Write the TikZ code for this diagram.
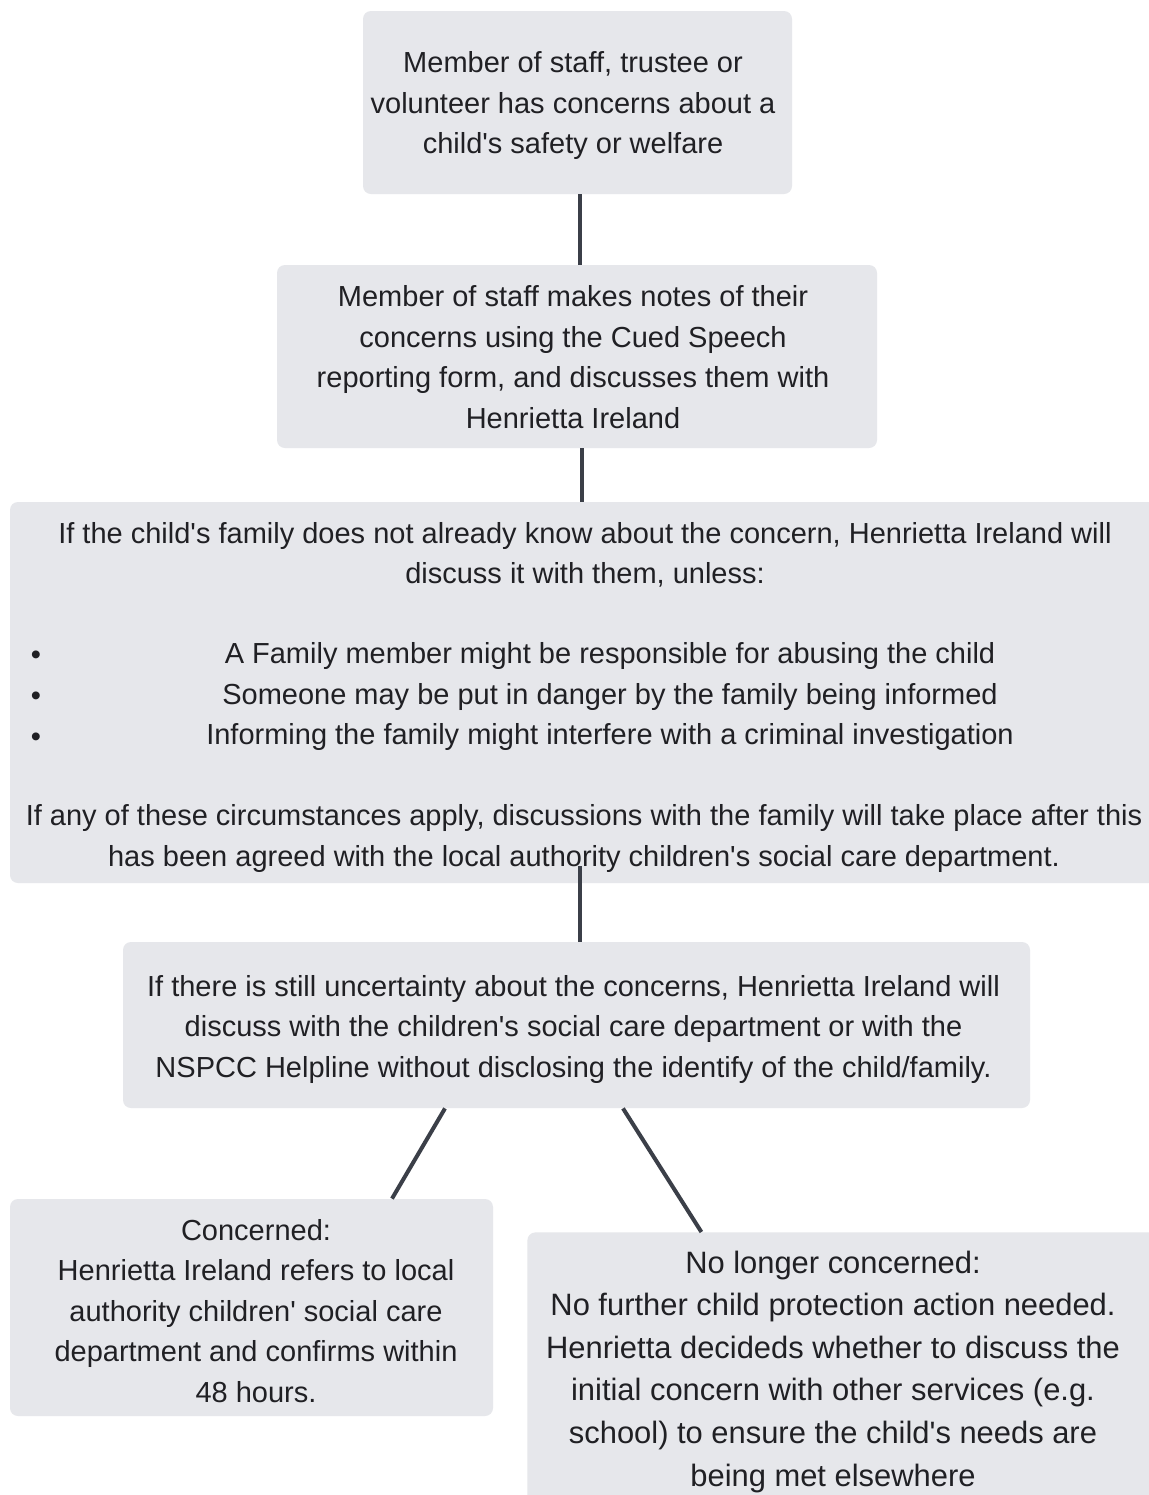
\documentclass[tikz,border=0pt]{standalone}
\usepackage{fontspec}
\setmainfont{Liberation Sans}[Ligatures=TeXOff]
\definecolor{boxgrey}{HTML}{E6E7EB}
\definecolor{linkgrey}{HTML}{3B3F48}
\definecolor{inkgrey}{HTML}{202024}
\tikzset{
  stepbox/.style={fill=boxgrey, rounded corners=4pt, inner sep=0pt},
  steptext/.style={inner sep=0pt, align=center, text=inkgrey,
    font=\fontsize{14.5}{20.25}\selectfont},
  link/.style={draw=linkgrey, line width=2pt},
}
\begin{document}
\begin{tikzpicture}[x=0.5pt, y=-0.5pt]
  \useasboundingbox (0,0) rectangle (1148,1495);
  \fill[white] (0,0) rectangle (1148,1495);

  % boxes, placed at pixel positions
  \node[stepbox, minimum width=214.5pt, minimum height=91.5pt] (b1) at (577.5,102.5) {};
  \node[stepbox, minimum width=300pt, minimum height=91.5pt] (b2) at (577,356.5) {};
  \node[stepbox, minimum width=575pt, minimum height=190.5pt] (b3) at (585,692.5) {};
  \node[stepbox, minimum width=453.5pt, minimum height=83pt] (b4) at (576.5,1025) {};
  \node[stepbox, minimum width=241.5pt, minimum height=108.5pt] (b5) at (251.5,1307.5) {};
  \node[stepbox, minimum width=320pt, minimum height=144pt, anchor=north west] (b6) at (527,1232) {};

  % texts
  \node[steptext] (t1) at (573,105.5)
    {Member of staff, trustee or\\volunteer has concerns about a\\child's safety or welfare};
  \node[steptext] (t2) at (573,357)
    {Member of staff makes notes of their\\concerns using the Cued Speech\\reporting form, and discusses them with\\Henrietta Ireland};
  \node[steptext] (t3a) at (585,555)
    {If the child's family does not already know about the concern, Henrietta Ireland will\\discuss it with them, unless:};
  \node[steptext] (t3b) at (610,696.5)
    {A Family member might be responsible for abusing the child\\Someone may be put in danger by the family being informed\\Informing the family might interfere with a criminal investigation};
  \foreach[count=\i] \y in {658,699,740}
    \node[steptext] (bul\i) at (36,\y) {\textbullet};
  \node[steptext] (t3c) at (584,838.5)
    {If any of these circumstances apply, discussions with the family will take place after this\\has been agreed with the local authority children's social care department.};
  \node[steptext] (t4) at (573.5,1029)
    {If there is still uncertainty about the concerns, Henrietta Ireland will\\discuss with the children's social care department or with the\\NSPCC Helpline without disclosing the identify of the child/family.};
  \node[steptext] (t5) at (256,1311)
    {Concerned:\\Henrietta Ireland refers to local\\authority children' social care\\department and confirms within\\48 hours.};
  \node[steptext, font=\fontsize{15.45}{21.3}\selectfont] (t6) at (833,1371.5)
    {No longer concerned:\\No further child protection action needed.\\Henrietta decideds whether to discuss the\\initial concern with other services (e.g.\\school) to ensure the child's needs are\\being met elsewhere};

  % connectors
  \coordinate (c34) at (580,866);
  \draw[link] ([xshift=1.25pt]b1.south) -- ([xshift=1.25pt]b1.south |- b2.north);
  \draw[link] ([xshift=2.5pt]b2.south) -- ([xshift=2.5pt]b2.south |- b3.north);
  \draw[link] (c34) -- (c34 |- b4.north);
  \draw[link] ([xshift=-65.75pt]b4.south) -- ([xshift=70.25pt]b5.north);
  \draw[link] ([xshift=23.25pt]b4.south) -- ([xshift=-73pt]b6.north);
\end{tikzpicture}
\end{document}
